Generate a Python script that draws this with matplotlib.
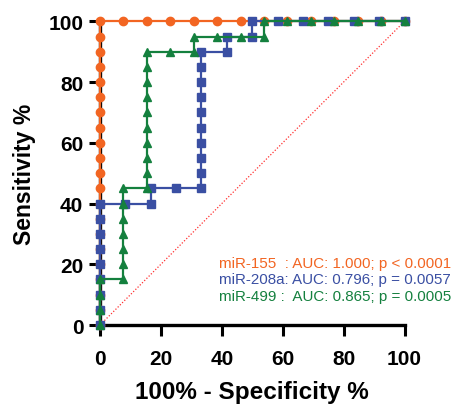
import matplotlib
matplotlib.use("Agg")
import matplotlib.pyplot as plt

plt.rcParams['font.family'] = ['Liberation Sans', 'DejaVu Sans']

# ROC points (100% - specificity, sensitivity)
fpr_155 = [0, 0, 0, 0, 0, 0, 0, 0, 0, 0, 0, 0, 0, 0, 0, 0, 0, 0, 0, 0, 0,
           7.69, 15.38, 23.08, 30.77, 38.46, 46.15, 53.85, 61.54, 69.23,
           76.92, 84.62, 92.31, 100]
tpr_155 = [0, 5, 10, 15, 20, 25, 30, 35, 40, 45, 50, 55, 60, 65, 70, 75, 80,
           85, 90, 95, 100,
           100, 100, 100, 100, 100, 100, 100, 100, 100, 100, 100, 100, 100]

fpr_208a = [0, 0, 0, 0, 0, 0, 0, 0, 0,
            8.33, 16.67, 16.67, 25, 33.33,
            33.33, 33.33, 33.33, 33.33, 33.33, 33.33, 33.33, 33.33, 33.33,
            41.67, 41.67, 50, 50, 58.33, 66.67, 75, 83.33, 91.67, 100]
tpr_208a = [0, 5, 10, 15, 20, 25, 30, 35, 40,
            40, 40, 45, 45, 45,
            50, 55, 60, 65, 70, 75, 80, 85, 90,
            90, 95, 95, 100, 100, 100, 100, 100, 100, 100]

fpr_499 = [0, 0, 0, 0,
           7.69, 7.69, 7.69, 7.69, 7.69, 7.69, 7.69,
           15.38, 15.38, 15.38, 15.38, 15.38, 15.38, 15.38, 15.38, 15.38, 15.38,
           23.08, 30.77, 30.77, 38.46, 46.15, 53.85, 53.85,
           61.54, 69.23, 76.92, 84.62, 92.31, 100]
tpr_499 = [0, 5, 10, 15,
           15, 20, 25, 30, 35, 40, 45,
           45, 50, 55, 60, 65, 70, 75, 80, 85, 90,
           90, 90, 95, 95, 95, 95, 100,
           100, 100, 100, 100, 100, 100]

ticks = [0, 20, 40, 60, 80, 100]
labels = ["miR-155  : AUC: 1.000; p < 0.0001",
          "miR-208a: AUC: 0.796; p = 0.0057",
          "miR-499 :  AUC: 0.865; p = 0.0005"]

ORANGE = "#F26522"
BLUE = "#3A4FA3"
GREEN = "#14803E"

fig = plt.figure(figsize=(4.56, 4.06), dpi=100)
ax = fig.add_axes([0.2193, 0.197, 0.6678, 0.748])

# chance line
ax.plot([0, 100], [0, 100], linestyle=(0, (1, 1.5)), color="#FF3030",
        linewidth=0.9, zorder=1)

ax.plot(fpr_155, tpr_155, color=ORANGE, marker='o', markersize=6,
        linewidth=1.6, clip_on=False, zorder=3)
ax.plot(fpr_208a, tpr_208a, color=BLUE, marker='s', markersize=5.7,
        linewidth=1.6, clip_on=False, zorder=4)
ax.plot(fpr_499, tpr_499, color=GREEN, marker='^', markersize=6.4,
        linewidth=1.6, clip_on=False, zorder=5)

ax.set_xlim(0, 100)
ax.set_ylim(0, 100)
ax.set_xticks(ticks)
ax.set_yticks(ticks)
for side in ['top', 'right']:
    ax.spines[side].set_visible(False)
for side in ['left', 'bottom']:
    ax.spines[side].set_linewidth(2.4)
ax.tick_params(length=8, width=2.2, labelsize=15)
ax.tick_params(axis='x', pad=9)
ax.tick_params(axis='y', pad=4)
for lab in ax.get_xticklabels() + ax.get_yticklabels():
    lab.set_fontweight('bold')

ax.set_xlabel("100% - Specificity %", fontsize=17.5, fontweight='bold', labelpad=9)
ax.set_ylabel("Sensitivity %", fontsize=16.5, fontweight='bold', labelpad=9)

for i, (txt, col) in enumerate(zip(labels, [ORANGE, BLUE, GREEN])):
    ax.text(39.1, 19.1 - i * 5.4, txt, color=col, fontsize=10.9,
            va='baseline', ha='left', zorder=6)

fig.savefig("out.png", dpi=100)
